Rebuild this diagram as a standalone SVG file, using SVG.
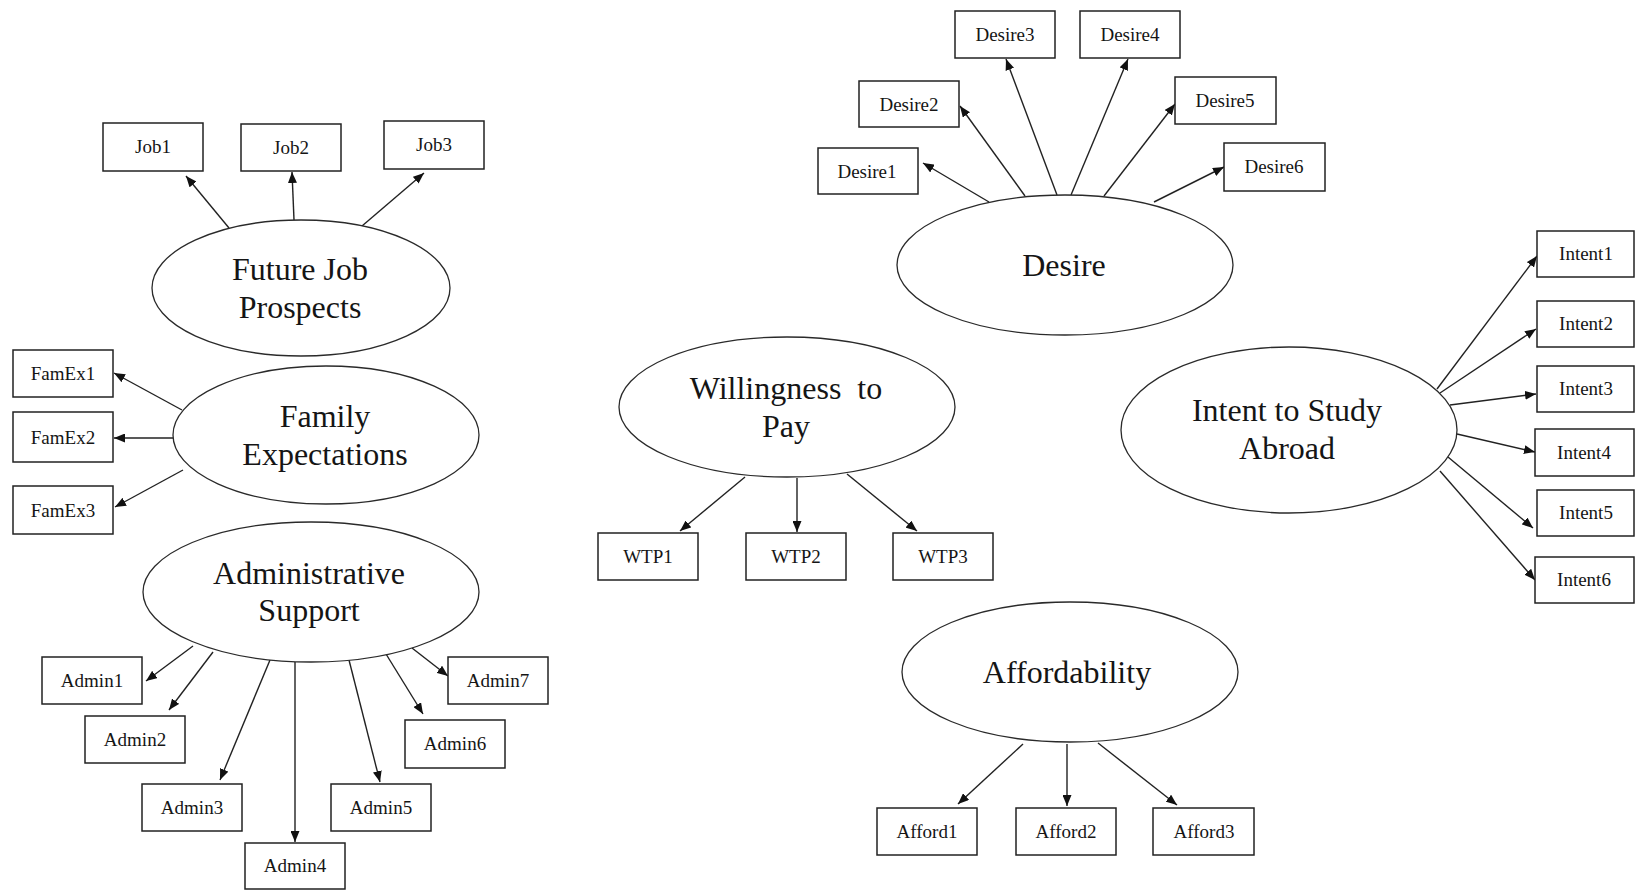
<svg xmlns="http://www.w3.org/2000/svg" width="1635" height="890" viewBox="0 0 1635 890">
  <style>
    .lat { fill: #ffffff; stroke: #2a2a2a; stroke-width: 1.3; }
    .ind { fill: #ffffff; stroke: #222222; stroke-width: 1.5; }
    .big { font-family: "Liberation Serif", "Times New Roman", serif; font-size: 32px; fill: #151515; text-anchor: middle; }
    .sm { font-family: "Liberation Serif", "Times New Roman", serif; font-size: 19px; fill: #151515; text-anchor: middle; }
    .edge { stroke: #222222; stroke-width: 1.4; fill: none; marker-end: url(#arrow); }
  </style>
  <defs>
    <marker id="arrow" markerUnits="userSpaceOnUse" markerWidth="11" markerHeight="9" refX="11" refY="4.5" orient="auto">
      <path d="M0,0 L11,4.5 L0,9 z" fill="#111111"/>
    </marker>
  </defs>
  <rect width="1635" height="890" fill="#ffffff"/>

  <!-- connectors: each latent construct points to its indicators -->
  <g id="connectors">
    <!-- Future Job Prospects -->
    <line class="edge" x1="229" y1="228" x2="186" y2="176"/>
    <line class="edge" x1="294" y1="220" x2="292" y2="172"/>
    <line class="edge" x1="362" y1="226" x2="424" y2="173"/>
    <!-- Family Expectations -->
    <line class="edge" x1="182" y1="410" x2="114" y2="373"/>
    <line class="edge" x1="173" y1="438" x2="114" y2="438"/>
    <line class="edge" x1="183" y1="470" x2="115" y2="507"/>
    <!-- Administrative Support -->
    <line class="edge" x1="193" y1="646" x2="146" y2="681"/>
    <line class="edge" x1="213" y1="652" x2="169" y2="710"/>
    <line class="edge" x1="270" y1="660" x2="220" y2="780"/>
    <line class="edge" x1="295" y1="662" x2="295" y2="842"/>
    <line class="edge" x1="349" y1="660" x2="380" y2="782"/>
    <line class="edge" x1="386" y1="654" x2="423" y2="714"/>
    <line class="edge" x1="412" y1="648" x2="448" y2="676"/>
    <!-- Willingness to Pay -->
    <line class="edge" x1="745" y1="477" x2="680" y2="531"/>
    <line class="edge" x1="797" y1="478" x2="797" y2="532"/>
    <line class="edge" x1="847" y1="474" x2="917" y2="531"/>
    <!-- Desire -->
    <line class="edge" x1="989" y1="202" x2="923" y2="163"/>
    <line class="edge" x1="1025" y1="196" x2="960" y2="106"/>
    <line class="edge" x1="1057" y1="195" x2="1006" y2="59"/>
    <line class="edge" x1="1071" y1="195" x2="1128" y2="59"/>
    <line class="edge" x1="1104" y1="196" x2="1175" y2="104"/>
    <line class="edge" x1="1154" y1="202" x2="1224" y2="167"/>
    <!-- Intent to Study Abroad -->
    <line class="edge" x1="1437" y1="389" x2="1537" y2="256"/>
    <line class="edge" x1="1440" y1="393" x2="1536" y2="329"/>
    <line class="edge" x1="1450" y1="405" x2="1536" y2="394"/>
    <line class="edge" x1="1457" y1="434" x2="1535" y2="452"/>
    <line class="edge" x1="1448" y1="457" x2="1533" y2="528"/>
    <line class="edge" x1="1440" y1="471" x2="1535" y2="580"/>
    <!-- Affordability -->
    <line class="edge" x1="1023" y1="744" x2="958" y2="804"/>
    <line class="edge" x1="1067" y1="744" x2="1067" y2="806"/>
    <line class="edge" x1="1098" y1="743" x2="1177" y2="805"/>
  </g>

  <!-- latent constructs -->
  <g id="future-job-prospects">
    <ellipse class="lat" cx="301" cy="288" rx="149" ry="68"/>
    <text class="big" x="300" y="280">Future Job</text>
    <text class="big" x="300" y="318">Prospects</text>
  </g>
  <g id="family-expectations">
    <ellipse class="lat" cx="326" cy="435" rx="153" ry="69"/>
    <text class="big" x="325" y="427">Family</text>
    <text class="big" x="325" y="465">Expectations</text>
  </g>
  <g id="administrative-support">
    <ellipse class="lat" cx="311" cy="592" rx="168" ry="70"/>
    <text class="big" x="309" y="584">Administrative</text>
    <text class="big" x="309" y="621">Support</text>
  </g>
  <g id="willingness-to-pay">
    <ellipse class="lat" cx="787" cy="407" rx="168" ry="70"/>
    <text class="big" x="786" y="399" xml:space="preserve">Willingness  to</text>
    <text class="big" x="786" y="437">Pay</text>
  </g>
  <g id="desire">
    <ellipse class="lat" cx="1065" cy="265" rx="168" ry="70"/>
    <text class="big" x="1064" y="276">Desire</text>
  </g>
  <g id="intent-to-study-abroad">
    <ellipse class="lat" cx="1289" cy="430" rx="168" ry="83"/>
    <text class="big" x="1287" y="421">Intent to Study</text>
    <text class="big" x="1287" y="459">Abroad</text>
  </g>
  <g id="affordability">
    <ellipse class="lat" cx="1070" cy="672" rx="168" ry="70"/>
    <text class="big" x="1067" y="683">Affordability</text>
  </g>

  <!-- indicators -->
  <g id="job1"><rect class="ind" x="103" y="123" width="100" height="48"/><text class="sm" x="153" y="153">Job1</text></g>
  <g id="job2"><rect class="ind" x="241" y="124" width="100" height="47"/><text class="sm" x="291" y="154">Job2</text></g>
  <g id="job3"><rect class="ind" x="384" y="121" width="100" height="48"/><text class="sm" x="434" y="151">Job3</text></g>

  <g id="famex1"><rect class="ind" x="13" y="350" width="100" height="47"/><text class="sm" x="63" y="380">FamEx1</text></g>
  <g id="famex2"><rect class="ind" x="13" y="412" width="100" height="50"/><text class="sm" x="63" y="444">FamEx2</text></g>
  <g id="famex3"><rect class="ind" x="13" y="486" width="100" height="48"/><text class="sm" x="63" y="517">FamEx3</text></g>

  <g id="admin1"><rect class="ind" x="42" y="657" width="100" height="47"/><text class="sm" x="92" y="687">Admin1</text></g>
  <g id="admin2"><rect class="ind" x="85" y="716" width="100" height="47"/><text class="sm" x="135" y="746">Admin2</text></g>
  <g id="admin3"><rect class="ind" x="142" y="784" width="100" height="47"/><text class="sm" x="192" y="814">Admin3</text></g>
  <g id="admin4"><rect class="ind" x="245" y="843" width="100" height="46"/><text class="sm" x="295" y="872">Admin4</text></g>
  <g id="admin5"><rect class="ind" x="331" y="784" width="100" height="47"/><text class="sm" x="381" y="814">Admin5</text></g>
  <g id="admin6"><rect class="ind" x="405" y="720" width="100" height="48"/><text class="sm" x="455" y="750">Admin6</text></g>
  <g id="admin7"><rect class="ind" x="448" y="657" width="100" height="47"/><text class="sm" x="498" y="687">Admin7</text></g>

  <g id="wtp1"><rect class="ind" x="598" y="533" width="100" height="47"/><text class="sm" x="648" y="563">WTP1</text></g>
  <g id="wtp2"><rect class="ind" x="746" y="533" width="100" height="47"/><text class="sm" x="796" y="563">WTP2</text></g>
  <g id="wtp3"><rect class="ind" x="893" y="533" width="100" height="47"/><text class="sm" x="943" y="563">WTP3</text></g>

  <g id="desire1"><rect class="ind" x="818" y="148" width="100" height="46"/><text class="sm" x="867" y="178">Desire1</text></g>
  <g id="desire2"><rect class="ind" x="859" y="81" width="100" height="46"/><text class="sm" x="909" y="111">Desire2</text></g>
  <g id="desire3"><rect class="ind" x="955" y="11" width="100" height="47"/><text class="sm" x="1005" y="41">Desire3</text></g>
  <g id="desire4"><rect class="ind" x="1080" y="11" width="100" height="47"/><text class="sm" x="1130" y="41">Desire4</text></g>
  <g id="desire5"><rect class="ind" x="1175" y="77" width="101" height="47"/><text class="sm" x="1225" y="107">Desire5</text></g>
  <g id="desire6"><rect class="ind" x="1224" y="143" width="101" height="48"/><text class="sm" x="1274" y="173">Desire6</text></g>

  <g id="intent1"><rect class="ind" x="1537" y="231" width="97" height="46"/><text class="sm" x="1586" y="260">Intent1</text></g>
  <g id="intent2"><rect class="ind" x="1537" y="301" width="97" height="46"/><text class="sm" x="1586" y="330">Intent2</text></g>
  <g id="intent3"><rect class="ind" x="1537" y="366" width="97" height="46"/><text class="sm" x="1586" y="395">Intent3</text></g>
  <g id="intent4"><rect class="ind" x="1535" y="429" width="99" height="47"/><text class="sm" x="1584" y="459">Intent4</text></g>
  <g id="intent5"><rect class="ind" x="1537" y="490" width="97" height="46"/><text class="sm" x="1586" y="519">Intent5</text></g>
  <g id="intent6"><rect class="ind" x="1535" y="557" width="99" height="46"/><text class="sm" x="1584" y="586">Intent6</text></g>

  <g id="afford1"><rect class="ind" x="877" y="808" width="100" height="47"/><text class="sm" x="927" y="838">Afford1</text></g>
  <g id="afford2"><rect class="ind" x="1016" y="808" width="100" height="47"/><text class="sm" x="1066" y="838">Afford2</text></g>
  <g id="afford3"><rect class="ind" x="1153" y="808" width="101" height="47"/><text class="sm" x="1204" y="838">Afford3</text></g>
</svg>
